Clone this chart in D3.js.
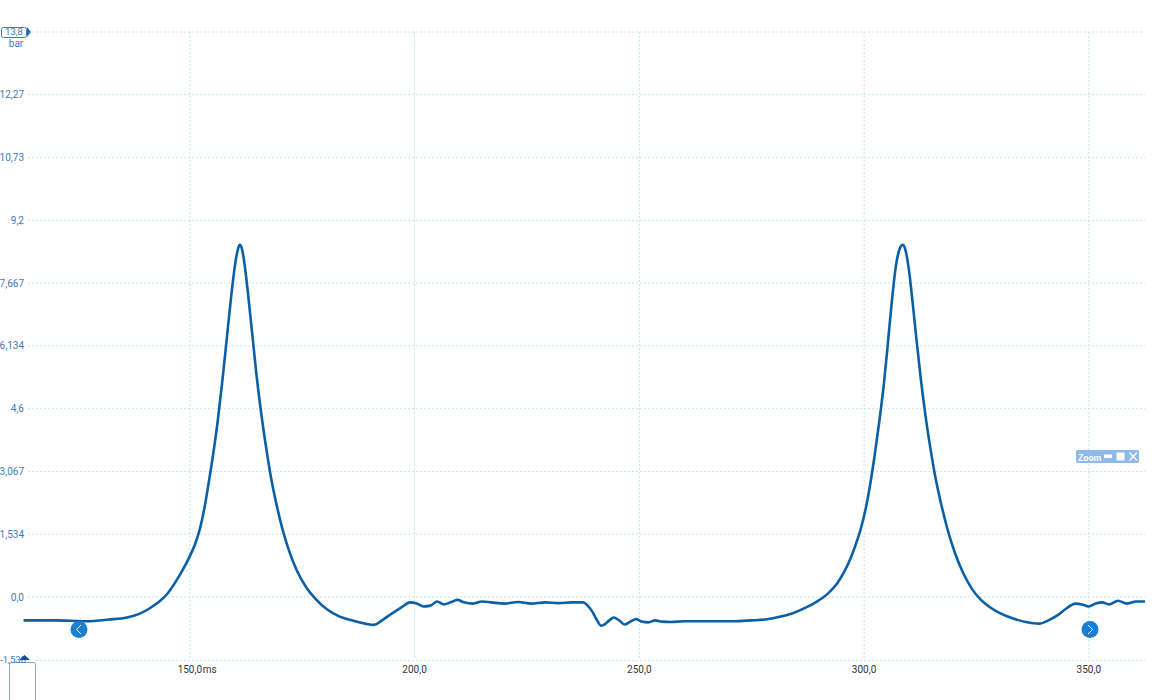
<!DOCTYPE html>
<html><head><meta charset="utf-8">
<script src="https://cdn.jsdelivr.net/npm/d3@7"></script>
<style>
html,body{margin:0;padding:0;background:#fff;}
svg{display:block;font-family:Roboto, "Noto Sans", sans-serif;}
</style></head>
<body><svg id="c" width="1156" height="700"></svg>
<script>
// ---- data ----
const timeMs = [113,120,127,132,136,139,141,143,145,147,148.5,150,151.2,152.2,153.2,154.2,155.2,156.2,157.2,158.2,159.2,160.1,160.7,161.1,161.6,162.2,163,163.9,164.8,165.8,166.9,168,169.2,170.5,172,173.8,175.8,178,180.5,183,186,189,191,193,195,197,199,200.5,202,203.5,205,206.5,208,209.5,211,213,215,217,220,223,226,229,232,235,237.5,238.5,239.5,240.5,241.5,242.3,243.3,244.3,245.5,246.7,248,249.3,250.5,252,253.5,255,257,260,263,267,271,275,278,281,284,287,289.5,292,294,295.5,297,298.2,299.3,300.4,301.4,302.4,303.4,304.4,305.3,306.2,307.1,307.9,308.6,309.2,309.9,310.7,311.6,312.6,313.7,314.8,316,317.3,318.7,320.3,322,324,326,328,330,333,336,339,341,343,345,347,348.5,350,351.5,353,354.5,356.5,358.5,360.5,362.5];
const pressureBar = [-0.57,-0.57,-0.59,-0.55,-0.50,-0.40,-0.28,-0.13,0.08,0.40,0.68,1.0,1.3,1.65,2.15,2.8,3.5,4.3,5.25,6.3,7.35,8.15,8.5,8.6,8.5,8.1,7.35,6.4,5.45,4.55,3.7,2.95,2.3,1.7,1.15,0.65,0.25,-0.05,-0.3,-0.46,-0.57,-0.65,-0.68,-0.55,-0.40,-0.26,-0.13,-0.16,-0.23,-0.21,-0.11,-0.18,-0.13,-0.07,-0.13,-0.16,-0.11,-0.13,-0.16,-0.12,-0.16,-0.13,-0.15,-0.13,-0.13,-0.21,-0.35,-0.55,-0.70,-0.67,-0.57,-0.50,-0.57,-0.67,-0.60,-0.54,-0.60,-0.62,-0.57,-0.60,-0.61,-0.59,-0.59,-0.59,-0.59,-0.57,-0.55,-0.49,-0.40,-0.26,-0.11,0.09,0.33,0.6,0.95,1.3,1.68,2.18,2.78,3.5,4.3,5.2,6.2,7.25,8.1,8.5,8.6,8.48,8.05,7.3,6.35,5.35,4.4,3.6,2.85,2.2,1.6,1.05,0.6,0.2,-0.07,-0.25,-0.38,-0.52,-0.61,-0.65,-0.57,-0.45,-0.28,-0.16,-0.18,-0.23,-0.16,-0.13,-0.18,-0.09,-0.16,-0.11,-0.11];
const yTicks = [13.8,12.27,10.73,9.2,7.667,6.134,4.6,3.067,1.534,0.0,-1.538];
const yTickLabels = ["13,8","12,27","10,73","9,2","7,667","6,134","4,6","3,067","1,534","0,0","-1,538"];
const xTicks = [150,200,250,300,350];
const xTickLabels = ["150,0","200,0","250,0","300,0","350,0"];
const xUnit = "ms", yUnit = "bar";

// ---- layout ----
const svg = d3.select("#c");
const pLeft = 24, pRight = 1145, pTop = 32, pBottom = 660;
const x = d3.scaleLinear().domain([113.1, 362.5]).range([pLeft, pRight]);
const y = d3.scaleLinear().domain([-1.538, 13.8]).range([pBottom, pTop]);
const blue = "#3a7cc0", grid = "#c4e3f1", lineCol = "#0b5fa6";

// horizontal grid
svg.append("g").selectAll("line").data(yTicks.slice(1, -1)).join("line")
  .attr("x1", 28).attr("x2", pRight).attr("y1", d => y(d)).attr("y2", d => y(d))
  .attr("stroke", grid).attr("stroke-dasharray", "2,2").attr("stroke-width", 1);
svg.append("line").attr("x1", 32).attr("x2", pRight).attr("y1", y(13.8)).attr("y2", y(13.8))
  .attr("stroke", grid).attr("stroke-dasharray", "2,2");
svg.append("line").attr("x1", 36).attr("x2", pRight).attr("y1", y(-1.538)+0.5).attr("y2", y(-1.538)+0.5)
  .attr("stroke", grid).attr("stroke-dasharray", "2,2");
// vertical grid
svg.append("g").selectAll("line").data(xTicks).join("line")
  .attr("x1", d => x(d)).attr("x2", d => x(d)).attr("y1", pTop).attr("y2", pBottom)
  .attr("stroke", grid).attr("stroke-dasharray", "2,2");

// y tick labels
svg.append("g").selectAll("text").data(yTicks.map((d,i)=>({v:d,l:yTickLabels[i]})).slice(1, -1)).join("text")
  .attr("x", 24).attr("y", d => y(d.v)).attr("dy", "0.35em")
  .attr("text-anchor", "end").attr("font-size", 10).attr("fill", blue).text(d => d.l);

// top label box
svg.append("rect").attr("x", 1.5).attr("y", 27.5).attr("width", 25).attr("height", 10).attr("rx", 2)
  .attr("fill", "#fff").attr("stroke", blue);
svg.append("path").attr("d", `M27,27 L31,32 L27,37 Z`).attr("fill", "#1f6fb8");
svg.append("text").attr("x", 14).attr("y", y(13.8)).attr("dy", "0.35em").attr("text-anchor", "middle")
  .attr("font-size", 9.5).attr("fill", blue).text(yTickLabels[0]);
svg.append("text").attr("x", 16).attr("y", 47).attr("text-anchor", "middle")
  .attr("font-size", 10).attr("fill", blue).text(yUnit);

// bottom label
svg.append("rect").attr("x", 9.5).attr("y", 662.5).attr("width", 26).attr("height", 40).attr("rx", 2)
  .attr("fill", "none").attr("stroke", "#8aa9c8");
svg.append("text").attr("x", 26).attr("y", y(-1.538)).attr("dy", "0.35em").attr("text-anchor", "end")
  .attr("font-size", 9.5).attr("fill", blue).text(yTickLabels[yTickLabels.length-1]);
svg.append("path").attr("d", "M19,660 L24.5,655 L30,660 Z").attr("fill", "#0d4f93");

// x tick labels
const xl = svg.append("g").selectAll("g").data(xTicks.map((d,i)=>({v:d,l:xTickLabels[i]}))).join("g");
xl.append("text").attr("x", d => x(d.v)).attr("y", 673).attr("text-anchor", "middle")
  .attr("font-size", 10).attr("fill", "#333").text(d => d.l);
svg.append("text").attr("x", x(xTicks[0]) + 13).attr("y", 673).attr("font-size", 10).attr("fill", "#333").text(xUnit);

// data line
const line = d3.line().x((d,i) => x(timeMs[i])).y(d => y(d)).curve(d3.curveMonotoneX);
svg.append("path").datum(pressureBar).attr("d", line)
  .attr("fill", "none").attr("stroke", lineCol).attr("stroke-width", 2.6).attr("stroke-linejoin", "round");

// nav buttons
function navBtn(cx, cy, dir) {
  const g = svg.append("g");
  g.append("circle").attr("cx", cx).attr("cy", cy).attr("r", 8.5).attr("fill", "#1a7fd0");
  const s = dir < 0 ? `M${cx+2},${cy-4.5} L${cx-2.5},${cy} L${cx+2},${cy+4.5}` : `M${cx-2},${cy-4.5} L${cx+2.5},${cy} L${cx-2},${cy+4.5}`;
  g.append("path").attr("d", s).attr("fill", "none").attr("stroke", "#fff").attr("stroke-width", 1);
}
navBtn(79, 629.5, -1);
navBtn(1090, 629.5, 1);

// zoom box
const zb = svg.append("g");
zb.append("rect").attr("x", 1076).attr("y", 450).attr("width", 63).attr("height", 13).attr("rx", 2).attr("fill", "#8fb9e8");
zb.append("text").attr("x", 1078).attr("y", 460.5).attr("font-size", 9).attr("font-weight", "bold").attr("fill", "#fff").text("Zoom");
zb.append("rect").attr("x", 1104).attr("y", 454.5).attr("width", 8).attr("height", 3.5).attr("fill", "#fff");
zb.append("rect").attr("x", 1116.5).attr("y", 452.5).attr("width", 8).attr("height", 8).attr("fill", "#fff");
zb.append("path").attr("d", "M1129.5,452.5 L1137,460.5 M1137,452.5 L1129.5,460.5").attr("stroke", "#fff").attr("stroke-width", 1.3);
</script></body></html>
